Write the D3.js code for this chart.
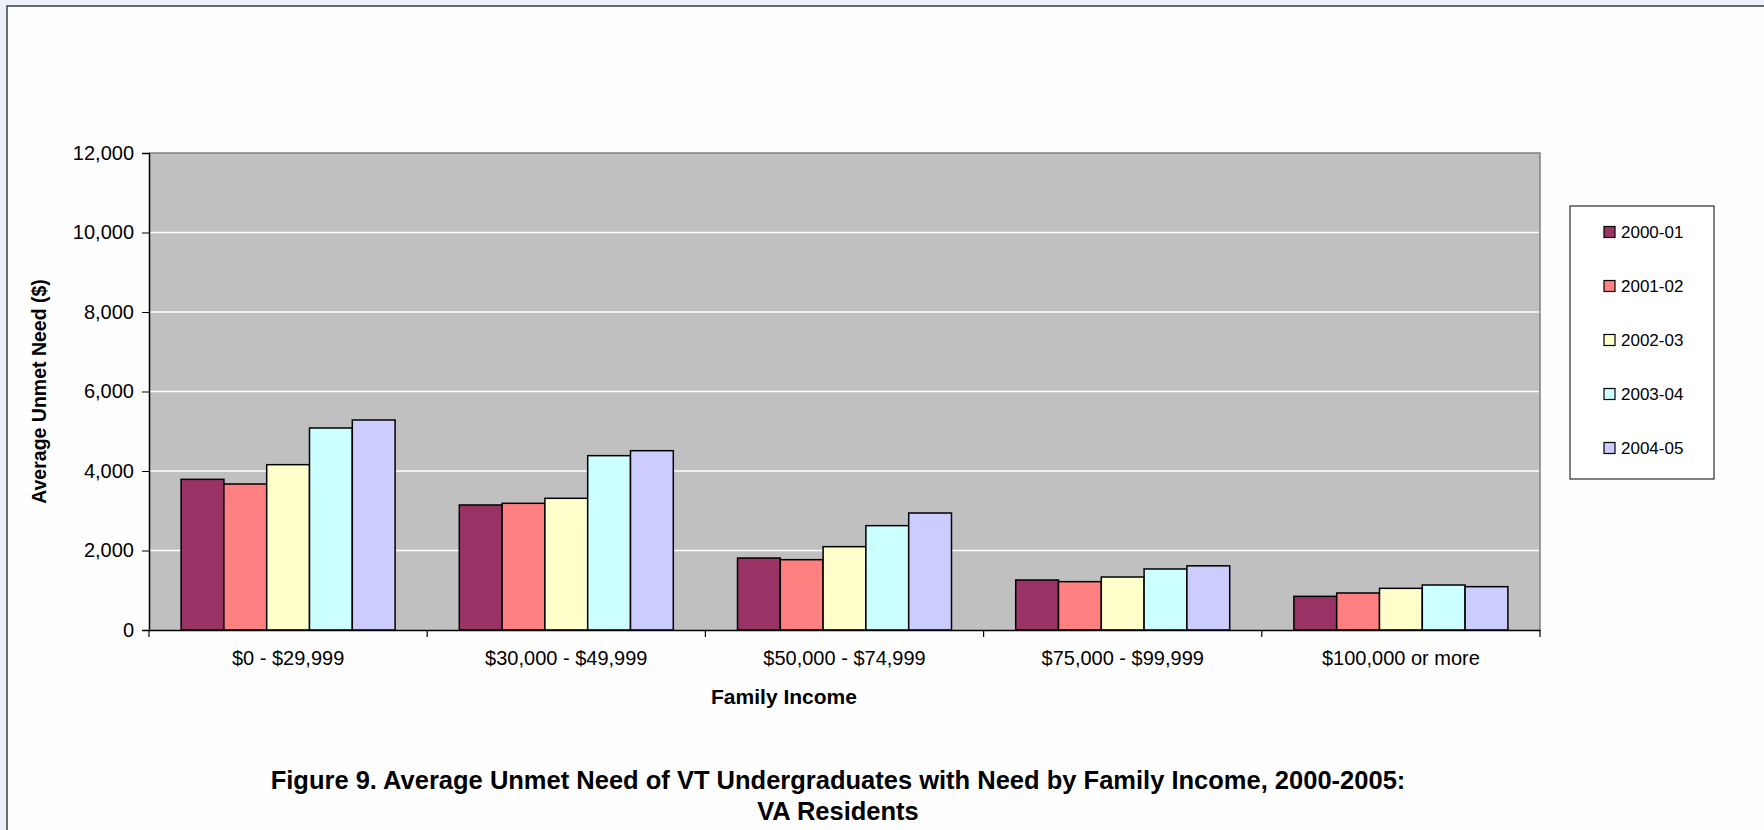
<!DOCTYPE html>
<html>
<head>
<meta charset="utf-8">
<script src="https://cdn.jsdelivr.net/npm/d3@7"></script>
<style>
  body { margin: 0; background: #eef0fb; }
  svg { display: block; font-family: "Liberation Sans", Arial, sans-serif; }
</style>
</head>
<body>
<script>
// chart data
const categories = ["$0 - $29,999", "$30,000 - $49,999", "$50,000 - $74,999", "$75,000 - $99,999", "$100,000 or more"];
const years = ["2000-01", "2001-02", "2002-03", "2003-04", "2004-05"];
const colours = ["#993366", "#ff8080", "#ffffcc", "#ccffff", "#ccccff"];
const yTicks = [0, 2000, 4000, 6000, 8000, 10000, 12000];

// values per year, one entry per income category
const v2000 = [3790, 3145, 1811, 1258, 847];
const v2001 = [3673, 3187, 1769, 1216, 931];
const v2002 = [4159, 3313, 2096, 1333, 1048];
const v2003 = [5082, 4386, 2625, 1535, 1132];
const v2004 = [5283, 4511, 2943, 1614, 1090];
const series = [v2000, v2001, v2002, v2003, v2004];

const width = 1764, height = 830;

const svg = d3.select("body").append("svg")
    .attr("width", width)
    .attr("height", height);

// page frame
svg.append("rect")
    .attr("x", 7).attr("y", 6)
    .attr("width", width).attr("height", height)
    .attr("fill", "#fefefe")
    .attr("stroke", "#3c3c48")
    .attr("stroke-width", 1.5);

const plot = { left: 149, right: 1540, top: 153, bottom: 630 };

const x0 = d3.scaleBand()
    .domain(categories)
    .range([plot.left, plot.right])
    .padding(0);

const x1 = d3.scaleBand()
    .domain(years)
    .range([0, x0.bandwidth()])
    .paddingInner(0)
    .paddingOuter(0.75);

const y = d3.scaleLinear()
    .domain([0, 12000])
    .range([plot.bottom, plot.top]);

// plot background
svg.append("rect")
    .attr("x", plot.left).attr("y", plot.top)
    .attr("width", plot.right - plot.left)
    .attr("height", plot.bottom - plot.top)
    .attr("fill", "#c0c0c0");

// gridlines
svg.selectAll(".grid")
    .data(yTicks.filter(d => d > 0 && d < 12000))
    .enter().append("line")
    .attr("class", "grid")
    .attr("x1", plot.left).attr("x2", plot.right)
    .attr("y1", d => y(d)).attr("y2", d => y(d))
    .attr("stroke", "#ffffff")
    .attr("stroke-width", 1.5);

// top and right border of plot
svg.append("path")
    .attr("d", "M" + plot.left + "," + y(12000) + "H" + plot.right + "V" + plot.bottom)
    .attr("fill", "none")
    .attr("stroke", "#808080")
    .attr("stroke-width", 1.5);

// bars
const groups = svg.selectAll(".group")
    .data(categories)
    .enter().append("g")
    .attr("class", "group")
    .attr("transform", d => "translate(" + x0(d) + ",0)");

groups.selectAll("rect")
    .data((c, ci) => years.map((yr, si) => ({ year: yr, value: series[si][ci], colour: colours[si] })))
    .enter().append("rect")
    .attr("x", d => x1(d.year))
    .attr("y", d => y(d.value))
    .attr("width", x1.bandwidth())
    .attr("height", d => y(0) - y(d.value))
    .attr("fill", d => d.colour)
    .attr("stroke", "#000")
    .attr("stroke-width", 1.5);

// y axis
const yAxis = svg.append("g")
    .attr("transform", "translate(" + plot.left + ",0)")
    .call(d3.axisLeft(y).tickValues(yTicks).tickSize(7).tickPadding(8).tickFormat(d3.format(",")));
yAxis.selectAll("text").attr("font-size", 20).attr("fill", "#000").attr("font-family", null);
yAxis.selectAll("line").attr("stroke", "#000");
yAxis.select(".domain").attr("stroke", "#000").attr("stroke-width", 1.5);

// x axis
const xAxis = svg.append("g")
    .attr("transform", "translate(0," + plot.bottom + ")")
    .call(d3.axisBottom(x0).tickSize(0).tickPadding(21));
xAxis.selectAll("text").attr("font-size", 20).attr("fill", "#000").attr("font-family", null);
xAxis.select(".domain").attr("stroke", "#000").attr("stroke-width", 1.5);

// category boundary ticks
const bounds = categories.map(c => x0(c)).concat([plot.right]);
xAxis.selectAll(".bound")
    .data(bounds)
    .enter().append("line")
    .attr("class", "bound")
    .attr("x1", d => d).attr("x2", d => d)
    .attr("y1", 0).attr("y2", 7)
    .attr("stroke", "#000")
    .attr("stroke-width", 1.2);

// axis titles
svg.append("text")
    .attr("transform", "translate(46," + ((plot.top + plot.bottom) / 2) + ") rotate(-90)")
    .attr("text-anchor", "middle")
    .attr("font-size", 19.5)
    .attr("font-weight", "bold")
    .text("Average Unmet Need ($)");

svg.append("text")
    .attr("x", 784).attr("y", 704)
    .attr("text-anchor", "middle")
    .attr("font-size", 21)
    .attr("font-weight", "bold")
    .text("Family Income");

// legend
const legend = svg.append("g");
legend.append("rect")
    .attr("x", 1570).attr("y", 206)
    .attr("width", 144).attr("height", 273)
    .attr("fill", "#fff")
    .attr("stroke", "#000")
    .attr("stroke-width", 1);

const ly = d3.scalePoint().domain(years).range([232, 448]);

const items = legend.selectAll(".item")
    .data(years)
    .enter().append("g")
    .attr("class", "item")
    .attr("transform", d => "translate(1604," + ly(d) + ")");

items.append("rect")
    .attr("x", 0).attr("y", -5.5)
    .attr("width", 11).attr("height", 11)
    .attr("fill", (d, i) => colours[i])
    .attr("stroke", "#000")
    .attr("stroke-width", 1.2);

items.append("text")
    .attr("x", 17).attr("dy", "0.36em")
    .attr("font-size", 17)
    .text(d => d);

// figure caption
svg.append("text")
    .attr("x", 838).attr("y", 789)
    .attr("text-anchor", "middle")
    .attr("font-size", 25.5)
    .attr("font-weight", "bold")
    .text("Figure 9. Average Unmet Need of VT Undergraduates with Need by Family Income, 2000-2005:");

svg.append("text")
    .attr("x", 838).attr("y", 820)
    .attr("text-anchor", "middle")
    .attr("font-size", 25.5)
    .attr("font-weight", "bold")
    .text("VA Residents");
</script>
</body>
</html>
